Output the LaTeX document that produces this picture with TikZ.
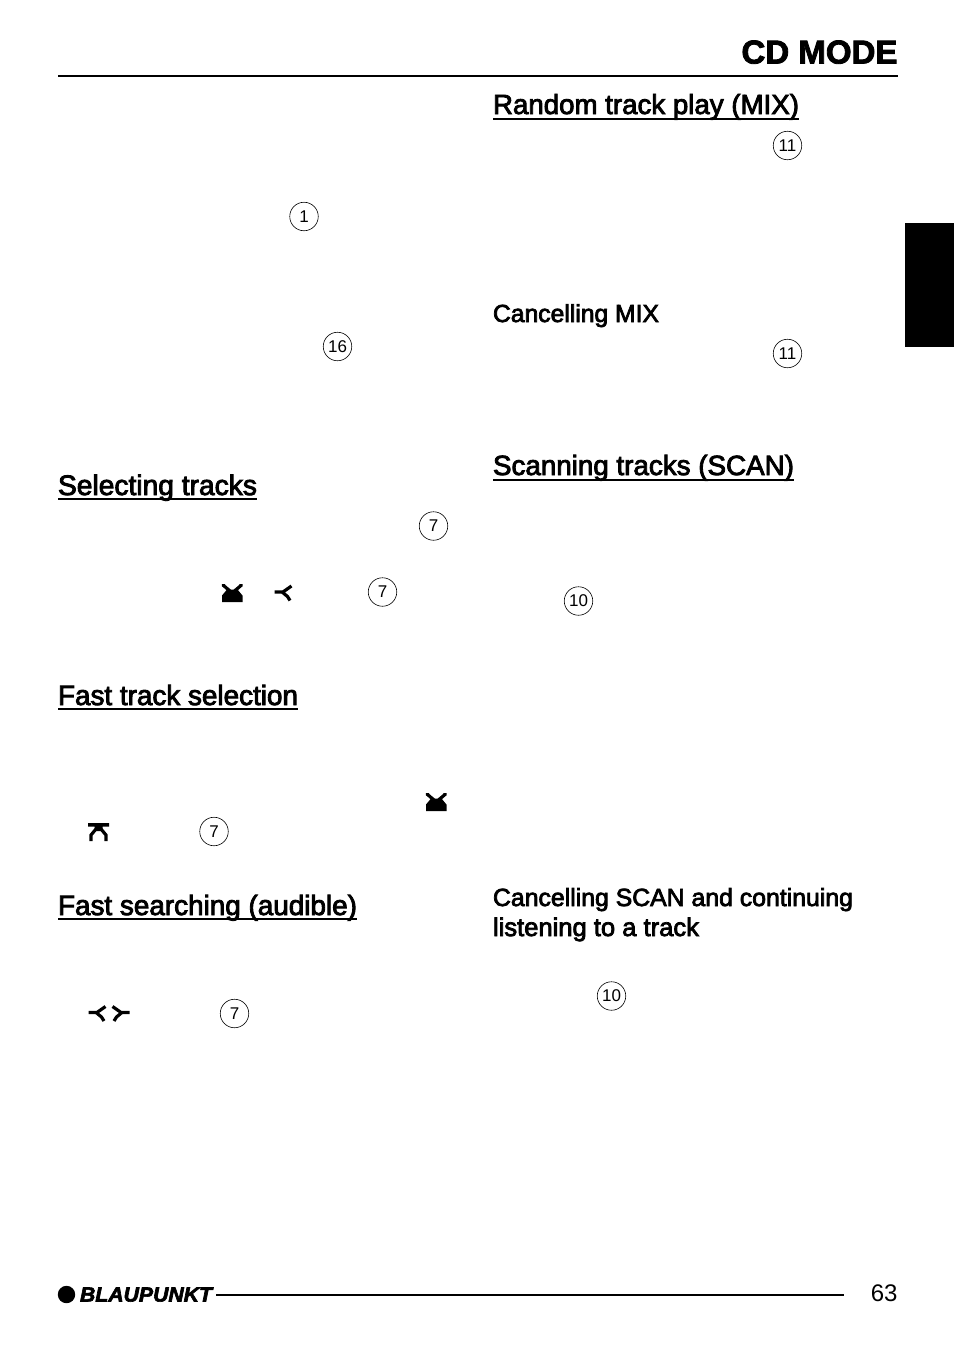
\documentclass[tikz,border=0pt]{standalone}
\usepackage{fontspec}
\usepackage{graphicx}
\setmainfont{Liberation Sans}
\newfontfamily\medfont[FakeBold=3]{Liberation Sans}
\newfontfamily\titlefont[FakeBold=2.5]{Liberation Sans Bold}
\newfontfamily\logofont[FakeBold=3]{Liberation Sans Bold Italic}
\tikzset{
  every node/.style={inner sep=0pt,outer sep=0pt,text=black},
  ref/.style={circle,draw=black,line width=0.6pt,minimum size=28.5pt,font=\fontsize{17}{17}\selectfont},
  heading/.style={anchor=base west,font=\medfont\fontsize{27}{27}\selectfont},
  subheading/.style={anchor=base west,font=\medfont\fontsize{23.5}{26}\selectfont},
  ruleline/.style={line width=2pt,draw=black},
  headrule/.style={line width=2pt,draw=black},
  pix/.style={line width=3.2pt,draw=black,line cap=butt,line join=miter},
  icondown/.pic={\fill[black] (0,11.5)--(5,5.5)--(15.5,5.5)--(20.5,11.5)--(20.5,18)--(0,18)--cycle;
     \draw[pix] (1.5,0)--(1.5,1.5)--(8,7) (19,0)--(19,1.5)--(12.5,7);},
  iconup/.pic={\fill[black] (0,0) rectangle (21,3.5) (6.5,3) rectangle (14.5,8);
     \draw[pix] (8,6)--(3,12)--(3,18) (13,6)--(18,12)--(18,18);},
  iconleft/.pic={\draw[pix] (0,7.5)--(9,7.5) (7,8.5)--(17,1.5) (7,7)--(13,12)--(15.5,16);},
  iconright/.pic={\draw[pix] (17,7.5)--(8,7.5) (10,8.5)--(0,1.5) (10,7)--(4,12)--(1.5,16);},
}
\newcommand{\headtext}[6]{% name, x, y, width, style, text
  \node[#5] (#1) at (#2,#3) {\resizebox{#4pt}{!}{#6}};}
\begin{document}
\begin{tikzpicture}[x=1pt,y=-1pt]
\useasboundingbox (0,0) rectangle (954,1349);
% page furniture
\node[anchor=base east,font=\titlefont\fontsize{32}{32}\selectfont] (title) at (897.5,63.5) {\resizebox{156pt}{!}{CD MODE}};
\coordinate (hl) at (58,75.5); \coordinate (hr) at (897.5,75.5);
\draw[ruleline] (hl)--(hr);
\fill[black] (905,223) rectangle (954,347);
% headings
\headtext{h1}{493}{114}{306}{heading}{Random track play (MIX)}
\headtext{h2}{493}{475}{301}{heading}{Scanning tracks (SCAN)}
\headtext{h3}{58}{495}{199}{heading}{Selecting tracks}
\headtext{h4}{58}{705}{240}{heading}{Fast track selection}
\headtext{h5}{58}{915}{299}{heading}{Fast searching (audible)}
\foreach \n/\y in {h1/118.5,h2/479.5,h3/499,h4/709,h5/919}{
  \draw[headrule] (\n.west |- 0,\y) -- (\n.east |- 0,\y);
}
\headtext{s1}{493}{322}{166}{subheading}{Cancelling MIX}
\headtext{s2}{493}{906}{360}{subheading}{Cancelling SCAN and continuing}
\headtext{s3}{493}{936}{206}{subheading}{listening to a track}
% reference numbers
\node[ref] (r1) at (304,216.5) {1};
\node[ref] (r2) at (337.5,346.5) {16};
\node[ref] (r3) at (433.5,526) {7};
\node[ref] (r4) at (382.5,592) {7};
\node[ref] (r5) at (214,831.5) {7};
\node[ref] (r6) at (234.5,1013.5) {7};
\node[ref] (r7) at (787.5,145.5) {11};
\node[ref] (r8) at (787.5,353.5) {11};
\node[ref] (r9) at (578.5,601) {10};
\node[ref] (r10) at (611.5,996) {10};
% key symbols
\pic at (222,584) {icondown};
\pic at (274.5,584.5) {iconleft};
\pic at (426,793) {icondown};
\pic at (88,823) {iconup};
\pic at (88.5,1005) {iconleft};
\pic at (112.5,1005) {iconright};
% footer
\fill[black] (66.5,1294.5) circle (8.7);
\node[anchor=base west,font=\logofont\fontsize{20}{20}\selectfont] (logo) at (80,1301.5) {\resizebox{132pt}{14pt}{BLAUPUNKT}};
\coordinate (fl) at (216,1294.5); \coordinate (fr) at (844,1294.5);
\draw[ruleline] (fl)--(fr);
\node[anchor=base east,font=\fontsize{24}{24}\selectfont] (page) at (897.5,1301.5) {63};
\end{tikzpicture}
\end{document}
